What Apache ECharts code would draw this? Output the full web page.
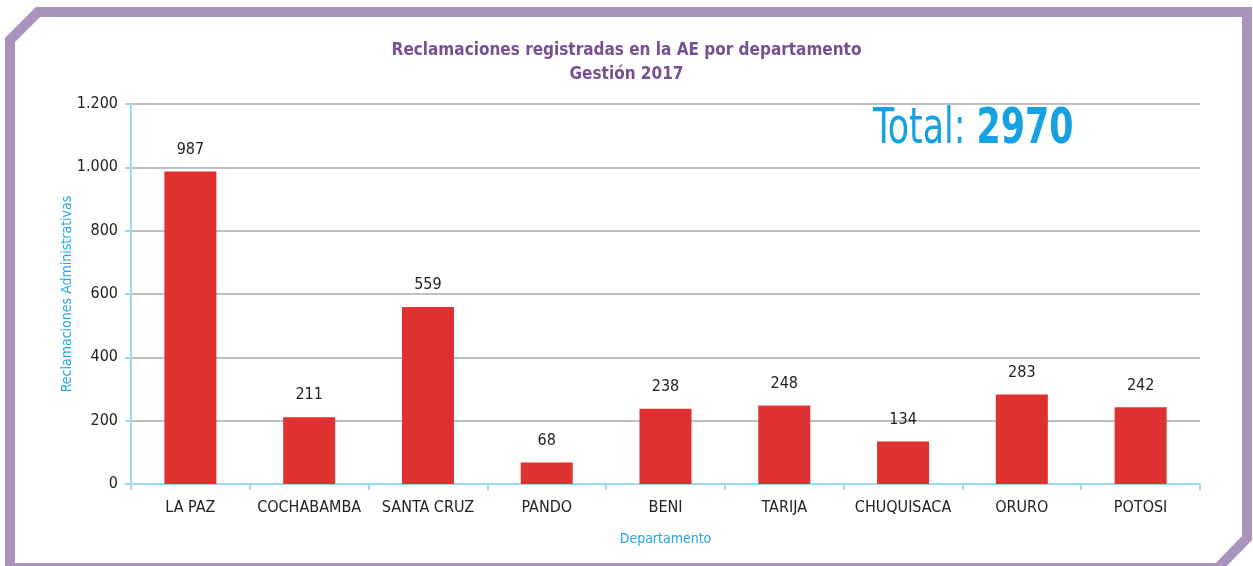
<!DOCTYPE html>
<html>
<head>
<meta charset="utf-8">
<script src="https://cdn.jsdelivr.net/npm/echarts@6/dist/echarts.min.js"></script>
<style>
  html, body { margin: 0; padding: 0; background: #fff; }
  #chart { width: 1253px; height: 566px; }
</style>
</head>
<body>
<div id="chart"></div>
<script>
var departamentos = ["LA PAZ", "COCHABAMBA", "SANTA CRUZ", "PANDO", "BENI", "TARIJA", "CHUQUISACA", "ORURO", "POTOSI"];
var reclamaciones = [987, 211, 559, 68, 238, 248, 134, 283, 242];
var total = 2970;

var fontNarrow = "'Liberation Sans Narrow', 'DejaVu Sans Condensed', 'Roboto', sans-serif";

var chart = echarts.init(document.getElementById("chart"));
chart.setOption({
    animation: false,
    title: {
        text: "Reclamaciones registradas en la AE por departamento\nGestión 2017",
        left: "center",
        top: 34,
        textStyle: {
            fontFamily: fontNarrow,
            fontSize: 17,
            fontWeight: "bold",
            color: "#774f93",
            lineHeight: 24
        }
    },
    grid: {
        left: 131,
        right: 53,
        top: 104,
        bottom: 82
    },
    graphic: [
        {
            type: "polygon",
            shape: {
                points: [[38, 12], [1247, 12], [1247, 538], [1218, 568], [10, 568], [10, 40]]
            },
            style: { fill: "none", stroke: "#aa94be", lineWidth: 10 }
        },
        {
            type: "text",
            x: 873,
            y: 106,
            scaleX: 0.79,
            style: {
                text: "{n|Total: }{b|" + total + "}",
                rich: {
                    n: { fontFamily: fontNarrow, fontSize: 49, fill: "#15a1e2" },
                    b: { fontFamily: fontNarrow, fontSize: 49, fontWeight: "bold", fill: "#15a1e2" }
                }
            }
        }
    ],
    xAxis: {
        type: "category",
        data: departamentos,
        name: "Departamento",
        nameLocation: "middle",
        nameGap: 48,
        nameMoveOverlap: false,
        nameTextStyle: { fontFamily: fontNarrow, fontSize: 14, color: "#22a6e4" },
        axisLine: { lineStyle: { color: "#9fd9f6", width: 2 } },
        axisTick: { show: true, length: 6, lineStyle: { color: "#9fd9f6", width: 2 } },
        axisLabel: { interval: 0, fontFamily: fontNarrow, fontSize: 16, color: "#222", margin: 16 }
    },
    yAxis: {
        type: "value",
        min: 0,
        max: 1200,
        interval: 200,
        name: "Reclamaciones Administrativas",
        nameLocation: "middle",
        nameGap: 57,
        nameMoveOverlap: false,
        nameTextStyle: { fontFamily: fontNarrow, fontSize: 14, color: "#22a6e4" },
        axisLine: { show: true, lineStyle: { color: "#9fd9f6", width: 2 } },
        axisTick: { show: true, length: 6, lineStyle: { color: "#9fd9f6", width: 2 } },
        splitLine: { lineStyle: { color: "#aaaaaa", width: 1.5 } },
        axisLabel: {
            fontFamily: fontNarrow,
            fontSize: 16,
            color: "#222",
            margin: 13,
            formatter: function (v) {
                return String(v).replace(/\B(?=(\d{3})+(?!\d))/g, ".");
            }
        }
    },
    series: [
        {
            type: "bar",
            data: reclamaciones,
            barWidth: 52,
            itemStyle: { color: "#e03131" },
            label: {
                show: true,
                position: "top",
                distance: 14,
                fontFamily: fontNarrow,
                fontSize: 16,
                color: "#222"
            }
        }
    ]
});
</script>
</body>
</html>
